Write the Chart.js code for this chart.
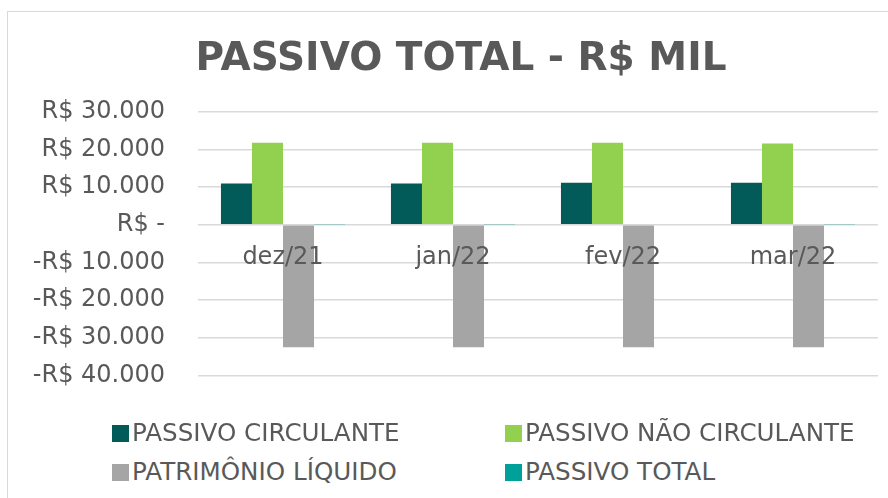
<!DOCTYPE html>
<html lang="pt-BR">
<head>
<meta charset="utf-8">
<title>Passivo Total - R$ mil</title>
<script src="https://cdn.jsdelivr.net/npm/chart.js@4/dist/chart.umd.min.js"></script>
<style>
    html, body { margin: 0; padding: 0; background: #fff; overflow: hidden; }
    body { width: 888px; height: 498px; position: relative; }
    #frame {
        position: absolute; left: 7px; top: 11px;
        width: 920px; height: 500px;
        border: 1px solid #d9d9d9;
    }
    #chartBox { position: absolute; left: 0; top: 0; width: 906px; height: 411px; }
    .legend-item {
        position: absolute; font-family: "DejaVu Sans", Verdana, sans-serif;
        font-size: 24.6px; color: #595959; white-space: nowrap; line-height: 28px;
    }
    .legend-item span.box {
        position: absolute; left: -20px; top: 6px; width: 17px; height: 17px;
    }
</style>
</head>
<body>
<div id="frame">
    <div id="chartBox"><canvas id="passivoChart"></canvas></div>
    <div id="legend"></div>
</div>
<script>
// ===================================================================
// Dados (R$ mil)
// ===================================================================
const meses = ['dez/21', 'jan/22', 'fev/22', 'mar/22'];
const passivoCirculante = [11000, 11000, 11200, 11200];
const passivoNaoCirculante = [21800, 21800, 21800, 21600];
const patrimonioLiquido = [-32500, -32500, -32500, -32500];
const passivoTotal = [150, 150, 200, 150];

const seriesNomes = ['PASSIVO CIRCULANTE', 'PASSIVO NÃO CIRCULANTE', 'PATRIMÔNIO LÍQUIDO', 'PASSIVO TOTAL'];
const seriesCores = ['#025b58', '#92d050', '#a5a5a5', '#00a09a'];

const textColor = '#595959';
const fontFamily = '"DejaVu Sans", Verdana, sans-serif';

// formato contábil: R$ 10.000 / R$ - / -R$ 10.000
function formatReais(v) {
    if (v === 0) return 'R$ -';
    const abs = Math.abs(v).toString().replace(/\B(?=(\d{3})+(?!\d))/g, '.');
    return (v < 0 ? '-R$ ' : 'R$ ') + abs;
}

// o título do original fica centrado na moldura inteira, não só na área do canvas
const titleShift = {
    id: 'titleShift',
    afterLayout(chart) {
        if (chart.titleBlock) {
            chart.titleBlock.left += 18;
            chart.titleBlock.right += 18;
        }
    }
};

function initPassivoChart() {
    const ctx = document.getElementById('passivoChart');
    const valores = [passivoCirculante, passivoNaoCirculante, patrimonioLiquido, passivoTotal];

    const chart = new Chart(ctx.getContext('2d'), {
        type: 'bar',
        data: {
            labels: meses,
            datasets: seriesNomes.map((nome, i) => ({
                label: nome,
                data: valores[i],
                backgroundColor: seriesCores[i],
                borderWidth: 0,
                categoryPercentage: 0.73,
                barPercentage: 1
            }))
        },
        plugins: [titleShift],
        options: {
            responsive: true,
            maintainAspectRatio: false,
            animation: false,
            layout: { padding: { left: 0, right: 36, top: 0, bottom: 37 } },
            plugins: {
                legend: { display: false },
                tooltip: { enabled: false },
                title: {
                    display: true,
                    text: 'PASSIVO TOTAL - R$ MIL',
                    color: textColor,
                    font: { family: fontFamily, size: 39, weight: 'bold' },
                    padding: { top: 24, bottom: 29 }
                }
            },
            scales: {
                x: {
                    position: { y: 0 },
                    grid: { display: false },
                    border: { display: false },
                    ticks: {
                        z: 1,
                        color: textColor,
                        padding: 11,
                        font: { family: fontFamily, size: 24 }
                    }
                },
                y: {
                    min: -40000,
                    max: 30000,
                    afterFit: (scale) => { scale.width = 190; },
                    border: { display: false },
                    grid: { color: '#d9d9d9', lineWidth: 1.5, drawTicks: false },
                    ticks: {
                        stepSize: 10000,
                        padding: 33,
                        color: textColor,
                        font: { family: fontFamily, size: 24 },
                        callback: (v) => formatReais(v)
                    }
                }
            }
        }
    });

    // legenda em duas colunas, como no original
    const legendPos = [[124, 407], [517, 407], [124, 446], [517, 446]];
    const legend = document.getElementById('legend');
    chart.data.datasets.forEach((ds, i) => {
        const item = document.createElement('div');
        item.className = 'legend-item';
        item.style.left = legendPos[i][0] + 'px';
        item.style.top = legendPos[i][1] + 'px';
        item.innerHTML = '<span class="box" style="background:' + ds.backgroundColor + '"></span>' + ds.label;
        legend.appendChild(item);
    });
}

document.addEventListener('DOMContentLoaded', initPassivoChart);
</script>
</body>
</html>
